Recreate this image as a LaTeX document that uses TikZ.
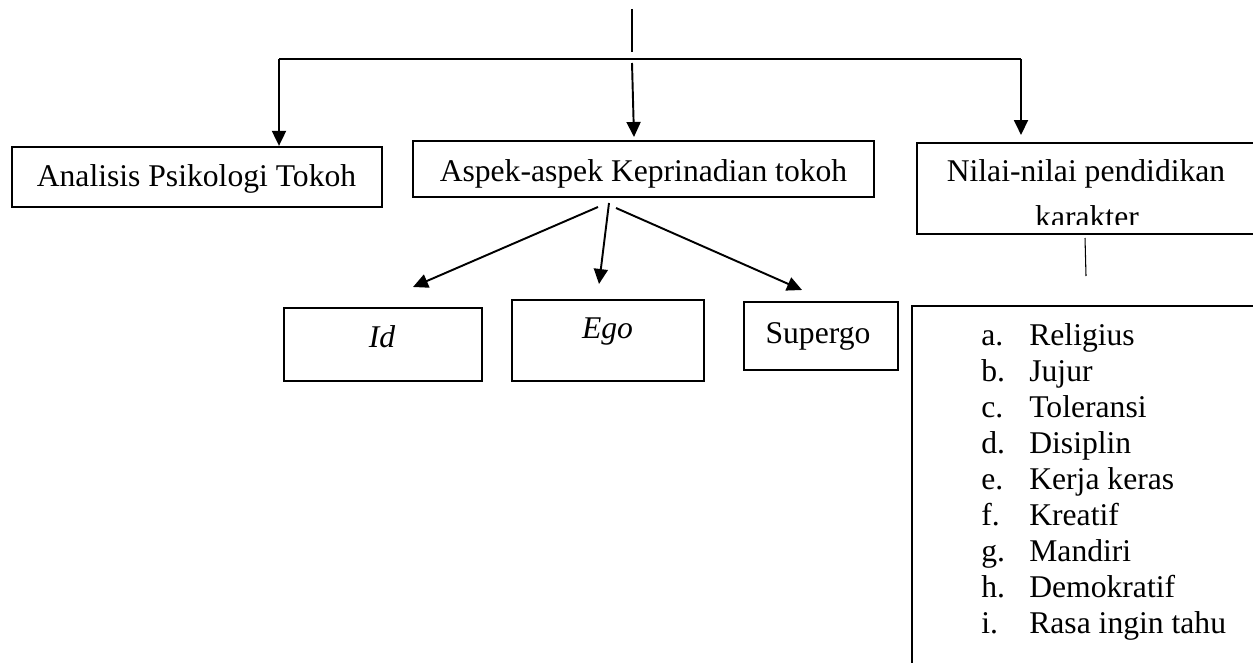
\documentclass[tikz,border=0pt]{standalone}
\usepackage{fontspec}
\setmainfont{Liberation Serif}
\usetikzlibrary{arrows.meta}

\begin{document}
\begin{tikzpicture}[x=0.02cm, y=-0.02cm]
	\tikzstyle{box}=[draw, line width=1.3pt, rectangle, inner sep=0pt]
	\tikzstyle{txt}=[anchor=base, inner sep=0pt, font={\fontsize{18}{20.55}\selectfont}]
	\tikzstyle{arr}=[-{Triangle[length=0.3cm, width=0.28cm]}, line width=1.1pt]
	\path[use as bounding box] (0,0) rectangle (1253,662);
	\clip (0,0) rectangle (1253,662);
	% boxes
	\node[box, minimum width=7.4cm, minimum height=1.2cm] (analisis) at (197,177) {};
	\node[box, minimum width=9.22cm, minimum height=1.12cm] (aspek) at (643.5,169) {};
	\node[box, minimum width=7.06cm, minimum height=1.82cm] (nilai) at (1093.5,188.5) {};
	\node[box, minimum width=3.96cm, minimum height=1.46cm] (id) at (383,344.5) {};
	\node[box, minimum width=3.84cm, minimum height=1.62cm] (ego) at (608,340.5) {};
	\node[box, minimum width=3.08cm, minimum height=1.36cm] (supergo) at (821,336) {};
	\node[box, minimum width=7.16cm, minimum height=7.48cm] (list) at (1091,493) {};
	% texts
	\node[txt] (analisistxt) at (196.5,187) {Analisis Psikologi Tokoh};
	\node[txt] (aspektxt) at (643.5,182) {Aspek-aspek Keprinadian tokoh};
	\node[txt] (nilaitxt) at (1086,182) {Nilai-nilai pendidikan};
	\begin{scope}
		\clip (917,143) rectangle (1253,224);
		\node[txt] (karaktertxt) at (1087,227) {karakter};
	\end{scope}
	\node[txt] (idtxt) at (382,347) {\textit{Id}};
	\node[txt] (egotxt) at (607.5,338) {\textit{Ego}};
	\node[txt] (supergotxt) at (818,343) {Supergo};
	\node[txt, anchor=base west] (items) at (981,345) {%
		\begin{tabular}[t]{@{}p{0.96cm}@{}l@{}}
			a. & Religius\\
			b. & Jujur\\
			c. & Toleransi\\
			d. & Disiplin\\
			e. & Kerja keras\\
			f. & Kreatif\\
			g. & Mandiri\\
			h. & Demokratif\\
			i. & Rasa ingin tahu
		\end{tabular}};
	% connectors
	\coordinate (top1) at (632,9);
	\coordinate (top2) at (632,52);
	\coordinate (fl) at (279,59);
	\coordinate (fr) at (1021,59);
	\coordinate (fr1) at (1021,135);
	\coordinate (m0) at (632,63);
	\coordinate (m1) at (634,137);
	\coordinate (s1) at (598,207);
	\coordinate (s2) at (609,203);
	\coordinate (s3) at (616,208);
	\coordinate (t1) at (413,287);
	\coordinate (t2) at (599,284);
	\coordinate (t3) at (802,290);
	\coordinate (n0) at (1085,238);
	\coordinate (n1) at (1086,276);
	\draw[line width=0.8pt] (top1) -- (top2);
	\draw[line width=0.8pt] (fl) -- (fr);
	\path[arr] (fl) edge (fl |- analisis.north)
	           (fr) edge (fr1)
	           (m0) edge (m1)
	           (s1) edge (t1) (s2) edge (t2) (s3) edge (t3);
	\draw[line width=0.6pt] (n0) -- (n1);
\end{tikzpicture}
\end{document}
